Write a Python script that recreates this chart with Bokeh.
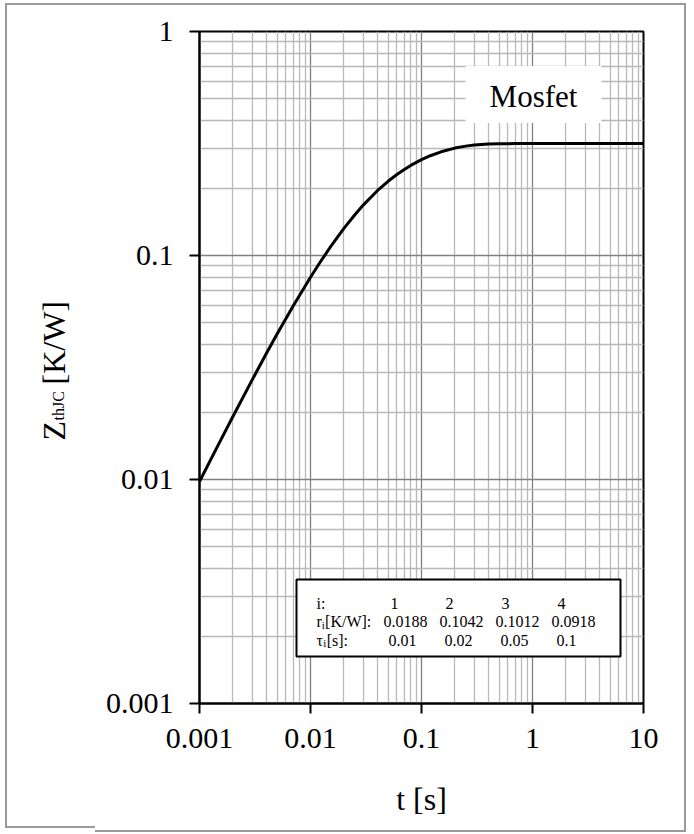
from bokeh.plotting import figure
from bokeh.layouts import row
from bokeh.models import FixedTicker, Label, BoxAnnotation
from bokeh.embed import file_html
from bokeh.resources import INLINE

# ---- data ----
t_s = [0.001, 0.0015, 0.002, 0.003, 0.004, 0.005, 0.007, 0.01, 0.012, 0.015,
       0.02, 0.025, 0.03, 0.04, 0.05, 0.06, 0.07, 0.08, 0.1, 0.12, 0.15, 0.2,
       0.25, 0.3, 0.4, 0.5, 0.7, 1.0, 2.0, 5.0, 10.0]
zth_kw = [0.0098, 0.0145, 0.0191, 0.0280, 0.0365, 0.0446, 0.0597, 0.0800, 0.0921, 0.1086,
          0.1321, 0.1517, 0.1683, 0.1946, 0.2144, 0.2299, 0.2423, 0.2524, 0.2678, 0.2789, 0.2904, 0.3017,
          0.3078, 0.3112, 0.3143, 0.3154, 0.3159, 0.3160, 0.3160, 0.3160, 0.3160]

x_tick_vals = [0.001, 0.01, 0.1, 1, 10]
x_tick_labels = ["0.001", "0.01", "0.1", "1", "10"]
y_tick_vals = [0.001, 0.01, 0.1, 1]
y_tick_labels = ["0.001", "0.01", "0.1", "1"]

idx_labels = ["1", "2", "3", "4"]
r_labels = ["0.0188", "0.1042", "0.1012", "0.0918"]
tau_labels = ["0.01", "0.02", "0.05", "0.1"]

series_name = "Mosfet"
x_title = "t [s]"
y_title_main = "Z"
y_title_sub = "thJC"
y_title_unit = "[K/W]"

FONT = "Liberation Serif"
BORDER = "2px solid #9a9a9a"

x_minor = [m * 10.0 ** k for k in range(-3, 1) for m in range(2, 10)]
y_minor = [m * 10.0 ** k for k in range(-3, 0) for m in range(2, 10)]

# ---- left strip holding the rotated y-axis title ----
LW, H = 90, 825
lp = figure(width=LW, height=H, x_range=(0, 1), y_range=(0, 1), min_border=0,
            x_axis_location=None, y_axis_location=None,
            output_backend="svg", toolbar_location=None,
            styles={"border-left": BORDER, "border-top": BORDER, "border-bottom": BORDER,
                    "margin-left": "5px", "margin-top": "3px"})
lp.outline_line_color = None
lp.grid.visible = False
lp.background_fill_color = "white"
lp.border_fill_color = "white"

def ylab(x, y, text, size):
    lp.add_layout(Label(x=x, y=y, x_units="screen", y_units="screen", text=text,
                        angle=90, angle_units="deg", text_font=FONT, text_font_size=size,
                        text_align="left", text_baseline="alphabetic", text_color="black"))

ylab(46, 259, y_title_main, "32px")
ylab(51, 279, y_title_sub, "16px")
ylab(46, 315, y_title_unit, "32px")

# ---- main chart ----
p = figure(x_axis_type="log", y_axis_type="log",
           x_range=(0.001, 10), y_range=(0.001, 1),
           frame_width=442, frame_height=668,
           min_border_left=104, min_border_right=43,
           min_border_top=26, min_border_bottom=131,
           output_backend="svg", toolbar_location=None,
           styles={"border-right": BORDER, "border-top": BORDER, "border-bottom": BORDER,
                   "margin-top": "3px"})

p.background_fill_color = "white"
p.border_fill_color = "white"
p.outline_line_color = "black"
p.outline_line_width = 2

p.xaxis.ticker = FixedTicker(ticks=x_tick_vals, minor_ticks=x_minor)
p.yaxis.ticker = FixedTicker(ticks=y_tick_vals, minor_ticks=y_minor)
p.xaxis.major_label_overrides = dict(zip(x_tick_vals, x_tick_labels))
p.yaxis.major_label_overrides = dict(zip(y_tick_vals, y_tick_labels))

for ax in (p.xaxis[0], p.yaxis[0]):
    ax.axis_line_color = "black"
    ax.axis_line_width = 2
    ax.major_tick_line_color = "black"
    ax.major_tick_line_width = 2
    ax.major_tick_in = 0
    ax.major_tick_out = 10
    ax.minor_tick_line_color = None
    ax.major_label_text_font = FONT
    ax.major_label_text_font_size = "30px"
    ax.major_label_text_color = "black"

p.xaxis.major_label_standoff = 15
p.yaxis.major_label_standoff = 16

p.xaxis.axis_label = x_title
p.xaxis.axis_label_text_font = FONT
p.xaxis.axis_label_text_font_size = "32px"
p.xaxis.axis_label_text_font_style = "normal"
p.xaxis.axis_label_text_color = "black"
p.xaxis.axis_label_standoff = 30

for g in (p.xgrid[0], p.ygrid[0]):
    g.grid_line_color = "#808080"
    g.grid_line_width = 1.3
    g.minor_grid_line_color = "#b8b8b8"
    g.minor_grid_line_width = 1.3

p.line(t_s, zth_kw, line_color="black", line_width=3)

# series name box
p.add_layout(Label(x=334, y=609, x_units="screen", y_units="screen", text=series_name,
                   text_font=FONT, text_font_size="31px", text_align="center",
                   text_baseline="alphabetic", text_color="black",
                   background_fill_color="white",
                   padding=dict(left=24, right=24, top=13, bottom=9)))

# parameter table
p.add_layout(BoxAnnotation(left=97, right=421, top=124, bottom=47,
                           left_units="screen", right_units="screen",
                           top_units="screen", bottom_units="screen",
                           fill_color="white", fill_alpha=1.0,
                           line_color="black", line_width=2, line_alpha=1.0))

def tlabel(x, y, text, size="16px"):
    p.add_layout(Label(x=x, y=y, x_units="screen", y_units="screen", text=text,
                       text_font=FONT, text_font_size=size, text_align="left",
                       text_baseline="alphabetic", text_color="black"))

row_y = [100, 82, 63.5]
tlabel(117, row_y[0], "i:")
tlabel(117, row_y[1], "r")
tlabel(122.3, row_y[1] - 3, "i", "11px")
tlabel(125.6, row_y[1], "[K/W]:")
tlabel(117, row_y[2], "τ")
tlabel(123.8, row_y[2] - 3, "i", "11px")
tlabel(127.2, row_y[2], "[s]:")

idx_x = [191, 246, 302, 358]
r_x = [184, 240, 296, 352]
tau_x = [189, 245, 301, 357]
for xi, s in zip(idx_x, idx_labels):
    tlabel(xi, row_y[0], s)
for xi, s in zip(r_x, r_labels):
    tlabel(xi, row_y[1], s)
for xi, s in zip(tau_x, tau_labels):
    tlabel(xi, row_y[2], s)

layout = row(lp, p)
open("out.html", "w").write(file_html(layout, INLINE))
